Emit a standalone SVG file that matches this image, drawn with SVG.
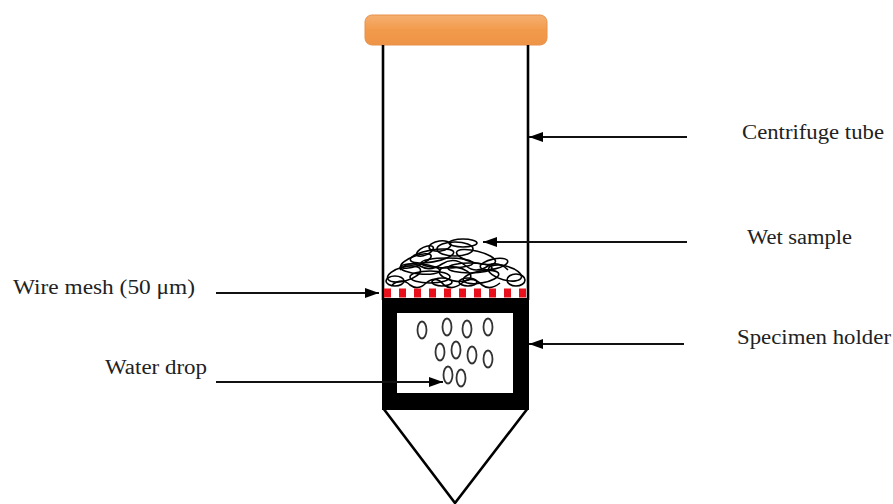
<svg xmlns="http://www.w3.org/2000/svg" width="893" height="504" viewBox="0 0 893 504">
  <defs>
    <marker id="arrow" markerWidth="14" markerHeight="10" refX="14" refY="5" orient="auto" markerUnits="userSpaceOnUse">
      <path d="M0,0 L14,5 L0,10 Z" fill="#000"/>
    </marker>
    <linearGradient id="capFill" x1="0" y1="0" x2="0" y2="1">
      <stop offset="0" stop-color="#F6B070"/>
      <stop offset="0.5" stop-color="#F29A4C"/>
      <stop offset="1" stop-color="#EE9448"/>
    </linearGradient>
  </defs>
  <style>
    .label { font-family: "Liberation Serif", serif; font-size: 20px; fill: #222; }
    .wall { stroke: #000; stroke-width: 2.6; fill: none; }
    .lead { stroke: #111; stroke-width: 2; fill: none; marker-end: url(#arrow); }
    .drop { fill: none; stroke: #333; stroke-width: 1.8; }
    .fibre { fill: none; stroke: #000; stroke-width: 1.6; }
  </style>
  <rect width="893" height="504" fill="#fff"/>

  <!-- centrifuge tube: cap and walls -->
  <g id="centrifuge-tube">
    <rect x="365" y="15" width="182" height="30" rx="7" fill="url(#capFill)" stroke="#E8904A" stroke-width="1"/>
    <line class="wall" x1="383" y1="45" x2="383" y2="300"/>
    <line class="wall" x1="528" y1="45" x2="528" y2="300"/>
    <polyline class="wall" points="383,408 455,503 528,408" stroke-linejoin="miter"/>
  </g>

  <!-- wet sample: tangled fibres on the mesh -->
  <g id="wet-sample">
    <ellipse class="fibre" cx="432" cy="256" rx="22" ry="6" transform="rotate(-10 432 256)"/>
    <ellipse class="fibre" cx="455" cy="249" rx="18" ry="7"/>
    <ellipse class="fibre" cx="476" cy="257" rx="20" ry="6" transform="rotate(14 476 257)"/>
    <ellipse class="fibre" cx="447" cy="263" rx="26" ry="5"/>
    <ellipse class="fibre" cx="416" cy="261" rx="16" ry="5" transform="rotate(-20 416 261)"/>
    <ellipse class="fibre" cx="463" cy="243" rx="14" ry="4"/>
    <ellipse class="fibre" cx="440" cy="246" rx="11" ry="5" transform="rotate(-8 440 246)"/>
    <ellipse class="fibre" cx="425" cy="251" rx="9" ry="4" transform="rotate(-25 425 251)"/>
    <ellipse class="fibre" cx="404" cy="274" rx="17" ry="7" transform="rotate(-15 404 274)"/>
    <ellipse class="fibre" cx="430" cy="277" rx="20" ry="6"/>
    <ellipse class="fibre" cx="455" cy="274" rx="16" ry="7" transform="rotate(10 455 274)"/>
    <ellipse class="fibre" cx="481" cy="277" rx="18" ry="6" transform="rotate(-10 481 277)"/>
    <ellipse class="fibre" cx="505" cy="273" rx="17" ry="7" transform="rotate(15 505 273)"/>
    <ellipse class="fibre" cx="395" cy="281" rx="9" ry="5"/>
    <ellipse class="fibre" cx="516" cy="280" rx="9" ry="6"/>
    <ellipse class="fibre" cx="470" cy="268" rx="22" ry="5"/>
    <ellipse class="fibre" cx="420" cy="269" rx="20" ry="5" transform="rotate(5 420 269)"/>
    <ellipse class="fibre" cx="494" cy="264" rx="14" ry="5" transform="rotate(-12 494 264)"/>
    <ellipse class="fibre" cx="442" cy="282" rx="10" ry="4"/>
    <ellipse class="fibre" cx="468" cy="282" rx="9" ry="4"/>
    <path class="fibre" d="M400,270 q8,-10 20,-4 q10,6 22,-2 q12,-8 24,2 q10,8 22,0 q10,-6 20,4"/>
    <path class="fibre" d="M392,285 q10,-8 18,0 q8,6 16,-2 q10,-8 18,2 q8,6 18,-2 q10,-8 20,2 q8,6 18,-2"/>
  </g>

  <!-- wire mesh -->
  <g id="wire-mesh">
    <line x1="384" y1="293" x2="528" y2="293" stroke="#E8101A" stroke-width="9" stroke-dasharray="7 8"/>
  </g>

  <!-- specimen holder with water drops -->
  <g id="specimen-holder">
    <path d="M382,298 H529 V410 H382 Z M397,313 V393 H513 V313 Z" fill="#000" fill-rule="evenodd"/>
  </g>
  <g id="water-drops">
    <ellipse class="drop" cx="422" cy="330" rx="4.5" ry="8.5"/>
    <ellipse class="drop" cx="447" cy="327" rx="4.5" ry="8.5"/>
    <ellipse class="drop" cx="467" cy="329" rx="4.5" ry="8.5"/>
    <ellipse class="drop" cx="488" cy="327" rx="4.5" ry="8.5"/>
    <ellipse class="drop" cx="440" cy="352" rx="4.5" ry="8.5"/>
    <ellipse class="drop" cx="456" cy="350" rx="4.5" ry="8.5"/>
    <ellipse class="drop" cx="472" cy="355" rx="4.5" ry="8.5"/>
    <ellipse class="drop" cx="488" cy="359" rx="4.5" ry="8.5"/>
    <ellipse class="drop" cx="448" cy="375" rx="4.5" ry="8.5"/>
    <ellipse class="drop" cx="461" cy="378" rx="4.5" ry="8.5"/>
  </g>

  <!-- leader arrows -->
  <g id="connectors">
    <line class="lead" x1="687" y1="137" x2="529" y2="137"/>
    <line class="lead" x1="687" y1="242" x2="483" y2="242"/>
    <line class="lead" x1="684" y1="344" x2="529" y2="344"/>
    <line class="lead" x1="216" y1="293" x2="379" y2="293"/>
    <line class="lead" x1="216" y1="382" x2="443" y2="382"/>
  </g>

  <!-- labels -->
  <g id="labels">
    <text class="label" x="742" y="139" textLength="142" lengthAdjust="spacingAndGlyphs">Centrifuge tube</text>
    <text class="label" x="747" y="244" textLength="105" lengthAdjust="spacingAndGlyphs">Wet sample</text>
    <text class="label" x="737" y="344" textLength="154" lengthAdjust="spacingAndGlyphs">Specimen holder</text>
    <text class="label" x="13" y="294" textLength="182" lengthAdjust="spacingAndGlyphs">Wire mesh (50 μm)</text>
    <text class="label" x="105" y="374" textLength="102" lengthAdjust="spacingAndGlyphs">Water drop</text>
  </g>
</svg>
